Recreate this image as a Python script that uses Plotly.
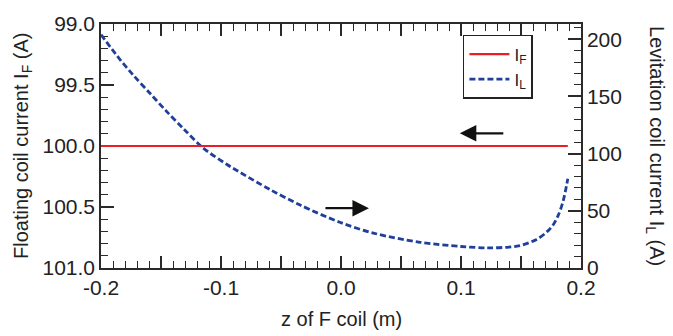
import plotly.graph_objects as go

# ---- data ----
z_f = [-0.2, 0.189]
i_f = [100.0, 100.0]

z_l = [-0.2, -0.184, -0.173, -0.159, -0.145, -0.131, -0.115, -0.095, -0.084, -0.059,
       -0.034, -0.001, 0.027, 0.066, 0.1, 0.122, 0.14, 0.149, 0.163, 0.172, 0.177,
       0.181, 0.185, 0.189]
i_l = [204, 182, 168.5, 152.5, 136.5, 121.5, 105, 90.5, 83.5, 68.5,
       55, 40, 30.5, 22.5, 18.8, 17.6, 18.3, 19.5, 25, 32, 38,
       46, 58, 78]

x_tickvals = [-0.2, -0.15, -0.1, -0.05, 0.0, 0.05, 0.1, 0.15, 0.2]
x_ticktext = ["-0.2", "", "-0.1", "", "0.0", "", "0.1", "", "0.2"]
yl_tickvals = [99.0, 99.5, 100.0, 100.5, 101.0]
yl_ticktext = ["99.0", "99.5", "100.0", "100.5", "101.0"]
yr_tickvals = [0, 50, 100, 150, 200]

FONT = "Liberation Sans, Arial, sans-serif"
TXT = "#222222"
AX = "#2a2a2a"
TICKSIZE = 21
TITLESIZE = 20

fig = go.Figure()
# IL on main axis (right side), IF on overlay axis (left side)
fig.add_trace(go.Scatter(x=z_l, y=i_l, mode="lines", name="I<sub>L</sub>",
                         line=dict(color="#1f3f9a", width=2.8, dash="6px,3px",
                                   shape="spline", smoothing=0.9),
                         yaxis="y", legendrank=2))
fig.add_trace(go.Scatter(x=z_f, y=i_f, mode="lines", name="I<sub>F</sub>",
                         line=dict(color="#ee1c25", width=2.2), yaxis="y2", legendrank=1))

fig.update_layout(
    width=673, height=336,
    margin=dict(l=101, r=92, t=12, b=68),
    paper_bgcolor="white", plot_bgcolor="white",
    font=dict(family=FONT, size=TICKSIZE, color=TXT),
    showlegend=True,
    legend=dict(x=0.754, y=0.955, xanchor="left", yanchor="top",
                bgcolor="white", bordercolor="#222", borderwidth=1.5,
                font=dict(size=17), tracegroupgap=0, itemwidth=40,
                traceorder="normal"),
    xaxis=dict(range=[-0.2, 0.2], tickvals=x_tickvals, ticktext=x_ticktext,
               ticks="inside", ticklen=12, tickwidth=1.5, tickcolor=AX,
               minor=dict(dtick=0.01, ticks="inside", ticklen=7, tickwidth=1.3, tickcolor=AX),
               showline=True, linecolor=AX, linewidth=1.5, mirror="ticks",
               showgrid=False, zeroline=False, tickfont=dict(size=TICKSIZE),
               layer="below traces"),
    yaxis=dict(range=[0, 213.3], side="right", tickvals=yr_tickvals,
               ticks="inside", ticklen=13, tickwidth=1.5, tickcolor=AX,
               minor=dict(dtick=10, ticks="inside", ticklen=7, tickwidth=1.3, tickcolor=AX),
               showline=True, linecolor=AX, linewidth=1.5,
               showgrid=False, zeroline=False, tickfont=dict(size=TICKSIZE),
               layer="below traces"),
    yaxis2=dict(range=[101, 99], overlaying="y", side="left",
                tickvals=yl_tickvals, ticktext=yl_ticktext,
                ticks="inside", ticklen=13, tickwidth=1.5, tickcolor=AX,
                minor=dict(dtick=0.1, ticks="inside", ticklen=7, tickwidth=1.3, tickcolor=AX),
                showline=True, linecolor=AX, linewidth=1.5,
                showgrid=False, zeroline=False, tickfont=dict(size=TICKSIZE),
                layer="below traces"),
)

# axis titles
fig.add_annotation(text="z of F coil (m)", xref="paper", yref="paper",
                   x=0.5, y=-0.211, showarrow=False,
                   font=dict(size=TITLESIZE, color=TXT), xanchor="center", yanchor="middle")
fig.add_annotation(text="Floating coil current I<sub>F</sub> (A)", xref="paper", yref="paper",
                   x=-0.1646, y=0.5, textangle=-90, showarrow=False,
                   font=dict(size=TITLESIZE, color=TXT), xanchor="center", yanchor="middle")
fig.add_annotation(text="Levitation coil current I<sub>L</sub> (A)", xref="paper", yref="paper",
                   x=1.156, y=0.5, textangle=90, showarrow=False,
                   font=dict(size=TITLESIZE, color=TXT), xanchor="center", yanchor="middle")

# arrows (positions on the IF axis)
fig.add_annotation(x=0.099, y=99.896, xref="x", yref="y2", ax=45, ay=0, axref="pixel", ayref="pixel",
                   text="", showarrow=True, arrowhead=2, arrowsize=1.5, arrowwidth=2.2,
                   arrowcolor="#111")
fig.add_annotation(x=0.0233, y=100.51, xref="x", yref="y2", ax=-45, ay=0, axref="pixel", ayref="pixel",
                   text="", showarrow=True, arrowhead=2, arrowsize=1.5, arrowwidth=2.2,
                   arrowcolor="#111")

fig.write_html("out.html")
